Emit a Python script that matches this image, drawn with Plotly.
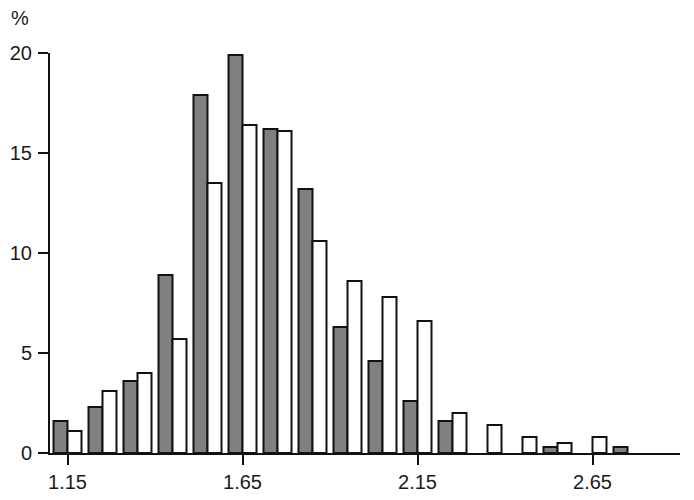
import plotly.graph_objects as go

bins = [1.15, 1.25, 1.35, 1.45, 1.55, 1.65, 1.75, 1.85, 1.95, 2.05,
        2.15, 2.25, 2.35, 2.45, 2.55, 2.65, 2.75]
dark_pct = [1.6, 2.3, 3.6, 8.9, 17.9, 19.9, 16.2, 13.2, 6.3, 4.6,
            2.6, 1.6, None, None, 0.3, None, 0.3]
white_pct = [1.1, 3.1, 4.0, 5.7, 13.5, 16.4, 16.1, 10.6, 8.6, 7.8,
             6.6, 2.0, 1.4, 0.8, 0.5, 0.8, None]
x_ticks = [1.15, 1.65, 2.15, 2.65]
y_ticks = [0, 5, 10, 15, 20]

outline = dict(color="#111111", width=2)

fig = go.Figure()
fig.add_trace(go.Bar(x=bins, y=dark_pct, marker=dict(color="#808080", line=outline)))
fig.add_trace(go.Bar(x=bins, y=white_pct, marker=dict(color="#ffffff", line=outline)))

# page body has an 8px default margin, so margins are reduced to compensate
axis_font = dict(family="Liberation Sans, Arial, sans-serif", size=20, color="#1a1a1a")
fig.update_layout(
    width=694,
    height=500,
    barmode="group",
    bargap=0.2,
    bargroupgap=0,
    showlegend=False,
    plot_bgcolor="white",
    paper_bgcolor="white",
    margin=dict(l=42, r=22, t=45, b=55),
    font=axis_font,
    annotations=[
        dict(text="%", xref="paper", yref="paper", x=-0.048, y=1.0875,
             xanchor="center", yanchor="middle", showarrow=False, font=axis_font)
    ],
)
fig.update_xaxes(
    range=[1.10, 2.90],
    tickvals=x_ticks,
    ticktext=[f"{v:.2f}" for v in x_ticks],
    ticks="outside",
    ticklen=10,
    tickwidth=2,
    tickcolor="#111111",
    showline=True,
    linecolor="#111111",
    linewidth=2,
    showgrid=False,
    zeroline=False,
    automargin=False,
)
fig.update_yaxes(
    range=[0, 20],
    tickvals=y_ticks,
    ticks="outside",
    ticklen=10,
    tickwidth=2,
    tickcolor="#111111",
    ticklabelstandoff=2,
    showline=True,
    linecolor="#111111",
    linewidth=2,
    showgrid=False,
    zeroline=False,
    automargin=False,
)

fig.write_html("out.html")
